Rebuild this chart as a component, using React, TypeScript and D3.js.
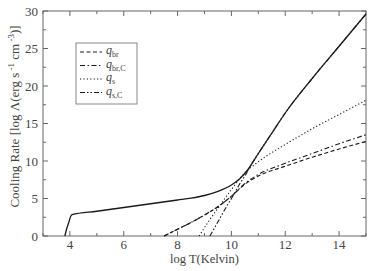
import React, { useEffect, useRef } from 'react';
import * as d3 from 'd3';

// values: [log T, log Lambda]
const qTotal: [number, number][] = [
  [3.81, 0], [3.9, 1.2], [3.97, 1.95], [4.02, 2.55], [4.08, 2.85], [5, 3.3], [6, 3.8],
  [7, 4.3], [8, 4.8], [8.5, 5.05], [9, 5.4], [9.5, 5.95], [10, 6.8], [10.3, 7.6],
  [10.6, 8.8], [11, 11.0], [11.5, 13.7], [12, 16.4], [13, 21.0], [14, 25.3], [15, 29.6],
];
const qBr: [number, number][] = [
  [7.5, 0], [8, 0.9], [8.5, 1.8], [9, 2.8], [9.5, 3.9], [10, 5.3], [10.5, 6.9],
  [11, 8.0], [12, 9.3], [13, 10.5], [14, 11.6], [15, 12.6],
];
const qBrC: [number, number][] = [
  [7.5, 0], [8, 0.9], [8.5, 1.8], [9, 2.8], [9.5, 3.9], [10, 5.3], [10.5, 7.0],
  [11, 8.2], [12, 9.7], [13, 11.0], [14, 12.3], [15, 13.5],
];
const qS: [number, number][] = [
  [8.8, 0], [9.2, 2.2], [9.6, 4.2], [10, 6.2], [10.5, 8.4], [11, 9.9], [12, 12.2],
  [13, 14.3], [14, 16.2], [15, 18.1],
];
const qSC: [number, number][] = [
  [9.2, 0], [9.5, 1.9], [9.8, 3.8], [10.1, 5.6], [10.3, 6.9], [10.5, 8.0], [10.7, 9.3],
  [11, 11.0], [11.5, 13.7], [12, 16.4], [13, 21.0], [14, 25.3], [15, 29.6],
];

const xTicks = [4, 6, 8, 10, 12, 14];
const xMinor = [3, 5, 7, 9, 11, 13, 15];
const yTicks = [0, 5, 10, 15, 20, 25, 30];
const yMinor = [2.5, 7.5, 12.5, 17.5, 22.5, 27.5];

const legendItems = [
  { sub: 'br', dash: '4,2.5' },
  { sub: 'br,C', dash: '5,2.5,1.5,2.5' },
  { sub: 's', dash: '1.2,2.2' },
  { sub: 's,C', dash: '5,2,1.5,2,1.5,2' },
];

const App = () => {
  const svgRef = useRef<SVGSVGElement>(null);

  useEffect(() => {
    const W = 374;
    const H = 271;
    const margin = { top: 11, right: 8, bottom: 35, left: 43 };
    const width = W - margin.left - margin.right;
    const height = H - margin.top - margin.bottom;
    const font = 'Liberation Serif';
    const axisColor = '#666';
    const textColor = '#444';

    d3.select(svgRef.current).selectAll('*').remove();

    const svg = d3.select(svgRef.current)
      .attr('width', W)
      .attr('height', H)
      .attr('font-family', font)
      .append('g')
      .attr('transform', `translate(${margin.left},${margin.top})`);

    const x = d3.scaleLinear().domain([3, 15]).range([0, width]);
    const y = d3.scaleLinear().domain([0, 30]).range([height, 0]);

    // frame
    svg.append('rect')
      .attr('width', width)
      .attr('height', height)
      .attr('fill', 'none')
      .attr('stroke', axisColor)
      .attr('stroke-width', 1);

    // inward ticks on all four sides
    const tickG = svg.append('g').attr('stroke', axisColor).attr('stroke-width', 1);
    const xt = (v: number, len: number) => {
      tickG.append('line').attr('x1', x(v)).attr('x2', x(v)).attr('y1', height).attr('y2', height - len);
      tickG.append('line').attr('x1', x(v)).attr('x2', x(v)).attr('y1', 0).attr('y2', len);
    };
    const yt = (v: number, len: number) => {
      tickG.append('line').attr('y1', y(v)).attr('y2', y(v)).attr('x1', 0).attr('x2', len);
      tickG.append('line').attr('y1', y(v)).attr('y2', y(v)).attr('x1', width).attr('x2', width - len);
    };
    xTicks.forEach(v => xt(v, 5));
    xMinor.forEach(v => xt(v, 3));
    yTicks.forEach(v => yt(v, 5));
    yMinor.forEach(v => yt(v, 3));

    // tick labels
    svg.append('g').selectAll('text')
      .data(xTicks)
      .enter().append('text')
      .attr('x', d => x(d))
      .attr('y', height + 12.5)
      .attr('text-anchor', 'middle')
      .attr('font-family', font)
      .attr('font-size', 13)
      .attr('fill', textColor)
      .text(d => d);

    svg.append('g').selectAll('text')
      .data(yTicks)
      .enter().append('text')
      .attr('x', -5)
      .attr('y', d => y(d) + 4.5)
      .attr('text-anchor', 'end')
      .attr('font-family', font)
      .attr('font-size', 13)
      .attr('fill', textColor)
      .text(d => d);

    // axis titles
    svg.append('text')
      .attr('x', width / 2)
      .attr('y', height + 26.5)
      .attr('text-anchor', 'middle')
      .attr('font-family', font)
      .attr('font-size', 12.5)
      .attr('fill', textColor)
      .text('log T(Kelvin)');

    const yLabel = svg.append('text')
      .attr('transform', `translate(${-24},${height / 2 - 7}) rotate(-90)`)
      .attr('text-anchor', 'middle')
      .attr('font-family', font)
      .attr('font-size', 13)
      .attr('fill', textColor);
    yLabel.append('tspan').text('Cooling Rate [log Λ(erg s');
    yLabel.append('tspan').attr('dy', -5).attr('font-size', 9).text(' -1');
    yLabel.append('tspan').attr('dy', 5).text('  cm');
    yLabel.append('tspan').attr('dy', -5).attr('font-size', 9).text(' -3');
    yLabel.append('tspan').attr('dy', 5).text(')]');

    // curves
    const line = d3.line<[number, number]>()
      .x(d => x(d[0]))
      .y(d => y(d[1]))
      .curve(d3.curveMonotoneX);

    const series = [
      { data: qBr, dash: legendItems[0].dash },
      { data: qBrC, dash: legendItems[1].dash },
      { data: qS, dash: legendItems[2].dash },
      { data: qSC, dash: legendItems[3].dash },
      { data: qTotal, dash: null },
    ];

    svg.append('g').selectAll('path')
      .data(series)
      .enter().append('path')
      .attr('d', d => line(d.data))
      .attr('fill', 'none')
      .attr('stroke', '#1a1a1a')
      .attr('stroke-width', d => d.dash ? 1.1 : 1.3)
      .attr('stroke-dasharray', d => d.dash);

    // legend
    const legend = svg.append('g')
      .attr('transform', `translate(${76 - margin.left},${43 - margin.top})`);

    legend.append('rect')
      .attr('width', 61)
      .attr('height', 61)
      .attr('fill', 'white')
      .attr('stroke', '#888')
      .attr('stroke-width', 1);

    const li = legend.selectAll('.legend-item')
      .data(legendItems)
      .enter().append('g')
      .attr('class', 'legend-item')
      .attr('transform', (d, i) => `translate(0, ${9 + i * 13.5})`);

    li.append('line')
      .attr('x1', 4)
      .attr('x2', 26)
      .attr('stroke', '#1a1a1a')
      .attr('stroke-width', 1.1)
      .attr('stroke-dasharray', d => d.dash);

    const lt = li.append('text')
      .attr('x', 30)
      .attr('y', 2)
      .attr('font-family', font)
      .attr('font-size', 12)
      .attr('fill', textColor);
    lt.append('tspan').attr('font-style', 'italic').text('q');
    lt.append('tspan').attr('dy', 3).attr('font-size', 8).text(d => d.sub);
  }, []);

  return (
    <div style={{ position: 'absolute', left: 0, top: 0 }}>
      <svg ref={svgRef} style={{ display: 'block' }}></svg>
    </div>
  );
};

export default App;
